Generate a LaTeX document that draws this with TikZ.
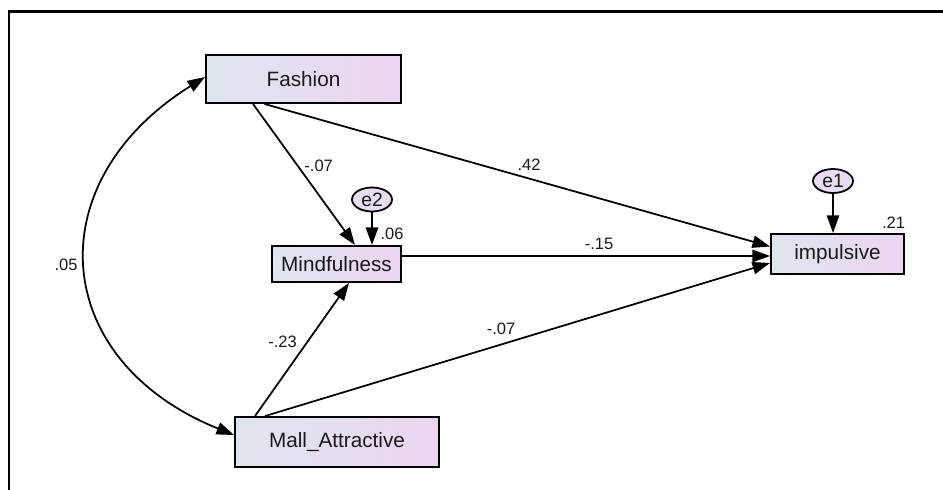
\documentclass[tikz,border=0pt]{standalone}
\usepackage{fontspec}
\setmainfont{Liberation Sans}
\usepackage{xcolor}
\definecolor{BoxLeft}{RGB}{223,229,237}
\definecolor{BoxRight}{RGB}{236,213,243}
\definecolor{ErrFill}{RGB}{232,220,242}
\definecolor{InkGray}{RGB}{25,25,25}
\usepackage{tikz}
\usetikzlibrary{
  arrows.meta,
  positioning, calc,
  shapes.geometric
}
\tikzset{
  % Observed variable (rectangle, shaded)
  obsbox/.style={
    rectangle,
    draw=black, line width=1.1pt,
    left color=BoxLeft, right color=BoxRight,
    text=InkGray,
    font=\fontsize{11.8}{14}\selectfont,
    inner sep=0pt
  },
  % Error term
  errcirc/.style={
    ellipse,
    draw=black, line width=1pt,
    fill=ErrFill,
    minimum width=0.8cm, minimum height=0.48cm,
    text=InkGray,
    font=\fontsize{11}{13}\selectfont,
    inner sep=0pt
  },
  % Arrows
  arr/.style={-{Triangle[length=10pt,width=7pt]}, line width=1pt},
  darr/.style={{Triangle[length=10pt,width=7pt]}-{Triangle[length=10pt,width=7pt]}, line width=1pt},
  % Path coefficient
  coef/.style={font=\fontsize{9.4}{11}\selectfont, text=InkGray, inner sep=1pt},
}
\begin{document}
\begin{tikzpicture}[x=0.02cm, y=-0.02cm]
  \useasboundingbox (0,0) rectangle (943,490);

  %% Frame (left and top only)
  \draw[line width=1.3pt] (9,490) |- (943,11.5);

  %% Observed variables
  \node[obsbox, minimum width=3.9cm,  minimum height=0.96cm] (fashion)   at (303.5,79)  {Fashion};
  \node[obsbox, minimum width=2.58cm, minimum height=0.72cm] (mind)      at (336.5,264) {Mindfulness};
  \node[obsbox, minimum width=2.66cm, minimum height=0.8cm]  (impulsive) at (837.5,254) {impulsive};
  \node[obsbox, minimum width=4.08cm, minimum height=1.0cm]  (mall)      at (337,442)   {Mall\_Attractive};

  %% Error terms
  \node[errcirc] (e2) at (372,199.5) {e2};
  \node[errcirc] (e1) at (833,181)   {e1};

  %% Paths
  \draw[arr] ([xshift=-1.01cm]fashion.south) -- ([xshift=0.37cm]mind.north);
  \draw[arr] ([xshift=-0.78cm]fashion.south) -- ([yshift=0.15cm]impulsive.west);
  \draw[arr] ([yshift=0.16cm]mind.east) -- ([yshift=-0.04cm]impulsive.west);
  \draw[arr] ([xshift=-1.44cm]mall.north) -- ([yshift=-0.18cm]impulsive.west);
  \draw[arr] ([xshift=-1.64cm]mall.north) -- ([xshift=0.25cm]mind.south);
  \draw[arr] (e2.south) -- (e2.south |- mind.north);
  \draw[arr] (e1.south) -- (e1.south |- impulsive.north);

  %% Covariance
  \draw[darr] ([yshift=0.04cm]fashion.west) to[out=212, in=158, looseness=1.42] ([yshift=0.14cm]mall.west);

  %% Coefficients
  \node[coef] (cFM) at (318.7,165.7) {-.07};
  \node[coef] (cFI) at (529,165)     {.42};
  \node[coef] (cE2) at (392,234)     {.06};
  \node[coef] (cE1) at (893.5,222.7) {.21};
  \node[coef] (cMI) at (599,244.3)   {-.15};
  \node[coef] (cAI) at (501,329)     {-.07};
  \node[coef] (cAM) at (282.6,341.7) {-.23};
  \node[coef] (cFA) at (66,265)      {.05};
\end{tikzpicture}
\end{document}
